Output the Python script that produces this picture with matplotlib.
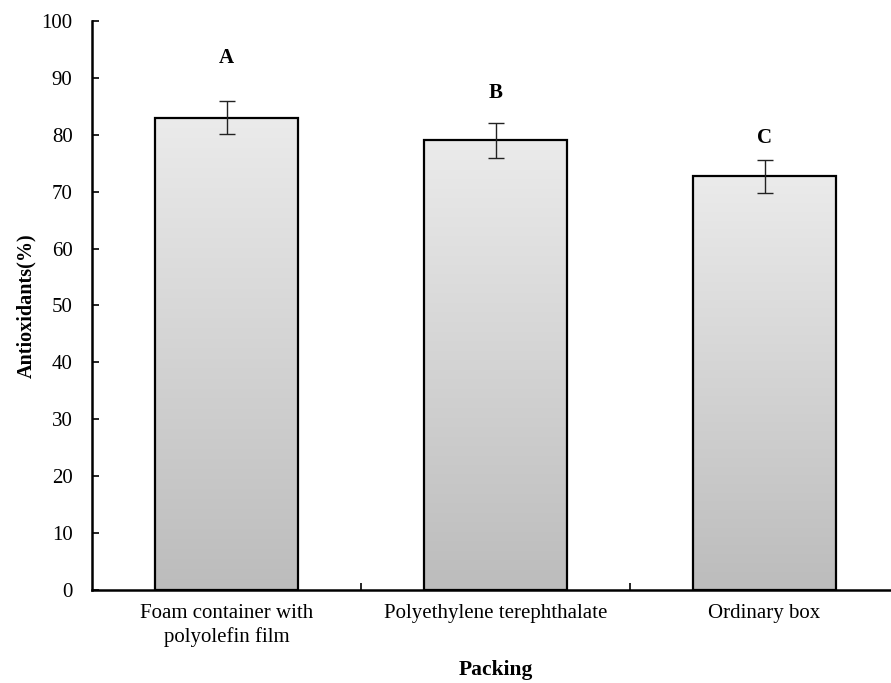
import numpy as np
import matplotlib.pyplot as plt
from matplotlib.colors import LinearSegmentedColormap

plt.rcParams["font.family"] = ["Liberation Serif", "DejaVu Serif"]

packing = ["Foam container with\npolyolefin film", "Polyethylene terephthalate", "Ordinary box"]
antioxidants = [83.0, 79.0, 72.7]
errors = [2.9, 3.0, 2.9]
letters = ["A", "B", "C"]
letter_y = [93.5, 87.3, 79.4]

fig = plt.figure(figsize=(8.91, 6.83), dpi=100)
ax = fig.add_axes([0.1033, 0.1362, 0.9057, 0.8331])

x = np.arange(len(packing))
bars = ax.bar(x, antioxidants, width=0.53, color="none", edgecolor="black",
              linewidth=1.6, zorder=3)

# vertical grey gradient inside each bar
cmap = LinearSegmentedColormap.from_list("grey", ["#bcbcbc", "#ebebeb"])
grad = np.linspace(0, 1, 256).reshape(-1, 1)
for b in bars:
    x0, w, h = b.get_x(), b.get_width(), b.get_height()
    im = ax.imshow(grad, cmap=cmap, aspect="auto", origin="lower",
                   extent=[x0, x0 + w, 0, h], zorder=2)
    im.set_clip_path(b)

ax.errorbar(x, antioxidants, yerr=errors, fmt="none", ecolor="#222222",
            elinewidth=1.0, capsize=5.5, capthick=1.0, zorder=4)

for xi, ly, lt in zip(x, letter_y, letters):
    ax.text(xi, ly, lt, ha="center", va="center", fontsize=15, fontweight="bold")

ax.set_xlim(-0.5, 2.5)
ax.set_ylim(0, 100)
ax.set_yticks(range(0, 101, 10))
ax.tick_params(axis="y", direction="in", length=5, width=1.2, labelsize=15, pad=14)
ax.set_xticks(x)
ax.set_xticklabels(packing, fontsize=15, linespacing=1.3)
ax.tick_params(axis="x", length=0, pad=10)
ax.set_xticks([0.5, 1.5], minor=True)
ax.tick_params(axis="x", which="minor", direction="in", length=5, width=1.2)

for side in ["top", "right"]:
    ax.spines[side].set_visible(False)
for side in ["left", "bottom"]:
    ax.spines[side].set_linewidth(1.8)

ax.set_xlabel("Packing", fontsize=15.5, fontweight="bold", labelpad=9)
ax.set_ylabel("Antioxidants(%)", fontsize=14.5, fontweight="bold", labelpad=4)

fig.savefig("out.png", dpi=100)
